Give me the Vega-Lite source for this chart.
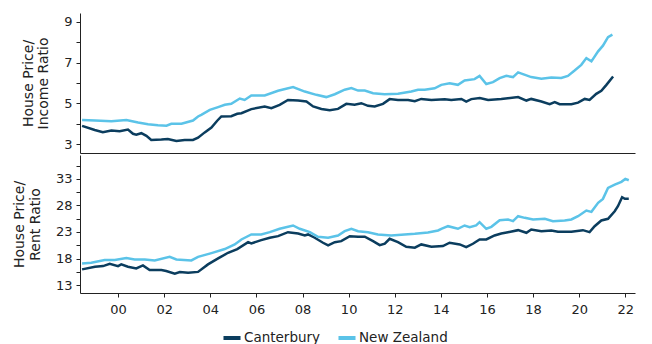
{
  "$schema": "https://vega.github.io/schema/vega-lite/v6.json",
  "padding": {"left": 12, "top": 13, "right": 5, "bottom": 0},
  "spacing": 2,
  "config": {
    "font": "DejaVu Sans",
    "view": {"stroke": null},
    "axis": {"grid": false, "domainColor": "#222", "tickColor": "#222", "labelColor": "#222", "titleColor": "#222", "labelFontSize": 13, "titleFontSize": 14, "titleLineHeight": 15.5, "titleFontWeight": "normal", "tickSize": 4, "labelPadding": 4},
    "legend": {"labelFontSize": 13.5, "labelColor": "#222"}
  },
  "datasets": {
    "inc": [
      {"s":"Canterbury","x":1998.44,"y":3.90},{"s":"Canterbury","x":1998.99,"y":3.70},{"s":"Canterbury","x":1999.34,"y":3.59},{"s":"Canterbury","x":1999.71,"y":3.67},{"s":"Canterbury","x":2000.07,"y":3.64},{"s":"Canterbury","x":2000.43,"y":3.72},{"s":"Canterbury","x":2000.65,"y":3.51},{"s":"Canterbury","x":2000.79,"y":3.47},{"s":"Canterbury","x":2001.01,"y":3.54},{"s":"Canterbury","x":2001.23,"y":3.41},{"s":"Canterbury","x":2001.44,"y":3.21},{"s":"Canterbury","x":2001.88,"y":3.23},{"s":"Canterbury","x":2002.16,"y":3.26},{"s":"Canterbury","x":2002.53,"y":3.16},{"s":"Canterbury","x":2002.89,"y":3.21},{"s":"Canterbury","x":2003.25,"y":3.21},{"s":"Canterbury","x":2003.47,"y":3.32},{"s":"Canterbury","x":2003.76,"y":3.58},{"s":"Canterbury","x":2004.05,"y":3.82},{"s":"Canterbury","x":2004.30,"y":4.15},{"s":"Canterbury","x":2004.48,"y":4.36},{"s":"Canterbury","x":2004.91,"y":4.37},{"s":"Canterbury","x":2005.17,"y":4.49},{"s":"Canterbury","x":2005.35,"y":4.52},{"s":"Canterbury","x":2005.78,"y":4.72},{"s":"Canterbury","x":2006.36,"y":4.85},{"s":"Canterbury","x":2006.65,"y":4.77},{"s":"Canterbury","x":2007.01,"y":4.93},{"s":"Canterbury","x":2007.37,"y":5.17},{"s":"Canterbury","x":2007.81,"y":5.14},{"s":"Canterbury","x":2008.17,"y":5.09},{"s":"Canterbury","x":2008.46,"y":4.85},{"s":"Canterbury","x":2008.82,"y":4.73},{"s":"Canterbury","x":2009.18,"y":4.67},{"s":"Canterbury","x":2009.54,"y":4.73},{"s":"Canterbury","x":2009.90,"y":4.98},{"s":"Canterbury","x":2010.26,"y":4.93},{"s":"Canterbury","x":2010.55,"y":5.01},{"s":"Canterbury","x":2010.84,"y":4.88},{"s":"Canterbury","x":2011.13,"y":4.85},{"s":"Canterbury","x":2011.49,"y":4.98},{"s":"Canterbury","x":2011.78,"y":5.21},{"s":"Canterbury","x":2012.14,"y":5.17},{"s":"Canterbury","x":2012.58,"y":5.17},{"s":"Canterbury","x":2012.87,"y":5.11},{"s":"Canterbury","x":2013.15,"y":5.22},{"s":"Canterbury","x":2013.59,"y":5.17},{"s":"Canterbury","x":2014.17,"y":5.20},{"s":"Canterbury","x":2014.45,"y":5.17},{"s":"Canterbury","x":2014.89,"y":5.22},{"s":"Canterbury","x":2015.10,"y":5.09},{"s":"Canterbury","x":2015.32,"y":5.21},{"s":"Canterbury","x":2015.69,"y":5.26},{"s":"Canterbury","x":2016.05,"y":5.17},{"s":"Canterbury","x":2016.62,"y":5.22},{"s":"Canterbury","x":2017.35,"y":5.31},{"s":"Canterbury","x":2017.71,"y":5.14},{"s":"Canterbury","x":2017.92,"y":5.22},{"s":"Canterbury","x":2018.36,"y":5.09},{"s":"Canterbury","x":2018.72,"y":4.96},{"s":"Canterbury","x":2018.94,"y":5.06},{"s":"Canterbury","x":2019.15,"y":4.96},{"s":"Canterbury","x":2019.66,"y":4.96},{"s":"Canterbury","x":2019.95,"y":5.04},{"s":"Canterbury","x":2020.24,"y":5.22},{"s":"Canterbury","x":2020.45,"y":5.17},{"s":"Canterbury","x":2020.74,"y":5.47},{"s":"Canterbury","x":2020.96,"y":5.62},{"s":"Canterbury","x":2021.18,"y":5.91},{"s":"Canterbury","x":2021.47,"y":6.32},
      {"s":"New Zealand","x":1998.44,"y":4.19},{"s":"New Zealand","x":1999.00,"y":4.16},{"s":"New Zealand","x":1999.71,"y":4.13},{"s":"New Zealand","x":2000.36,"y":4.19},{"s":"New Zealand","x":2000.87,"y":4.06},{"s":"New Zealand","x":2001.30,"y":3.98},{"s":"New Zealand","x":2001.73,"y":3.93},{"s":"New Zealand","x":2002.10,"y":3.91},{"s":"New Zealand","x":2002.31,"y":4.00},{"s":"New Zealand","x":2002.75,"y":4.00},{"s":"New Zealand","x":2003.25,"y":4.16},{"s":"New Zealand","x":2003.47,"y":4.36},{"s":"New Zealand","x":2003.61,"y":4.44},{"s":"New Zealand","x":2003.98,"y":4.68},{"s":"New Zealand","x":2004.34,"y":4.82},{"s":"New Zealand","x":2004.63,"y":4.93},{"s":"New Zealand","x":2004.91,"y":4.98},{"s":"New Zealand","x":2005.28,"y":5.24},{"s":"New Zealand","x":2005.49,"y":5.17},{"s":"New Zealand","x":2005.78,"y":5.39},{"s":"New Zealand","x":2006.36,"y":5.39},{"s":"New Zealand","x":2006.94,"y":5.62},{"s":"New Zealand","x":2007.59,"y":5.80},{"s":"New Zealand","x":2008.10,"y":5.58},{"s":"New Zealand","x":2008.60,"y":5.42},{"s":"New Zealand","x":2009.03,"y":5.31},{"s":"New Zealand","x":2009.40,"y":5.45},{"s":"New Zealand","x":2009.83,"y":5.67},{"s":"New Zealand","x":2010.12,"y":5.75},{"s":"New Zealand","x":2010.41,"y":5.63},{"s":"New Zealand","x":2010.70,"y":5.63},{"s":"New Zealand","x":2011.06,"y":5.50},{"s":"New Zealand","x":2011.56,"y":5.45},{"s":"New Zealand","x":2012.14,"y":5.47},{"s":"New Zealand","x":2012.72,"y":5.58},{"s":"New Zealand","x":2013.01,"y":5.67},{"s":"New Zealand","x":2013.30,"y":5.67},{"s":"New Zealand","x":2013.73,"y":5.74},{"s":"New Zealand","x":2014.02,"y":5.91},{"s":"New Zealand","x":2014.38,"y":5.99},{"s":"New Zealand","x":2014.74,"y":5.91},{"s":"New Zealand","x":2015.03,"y":6.12},{"s":"New Zealand","x":2015.46,"y":6.19},{"s":"New Zealand","x":2015.68,"y":6.35},{"s":"New Zealand","x":2015.97,"y":5.95},{"s":"New Zealand","x":2016.26,"y":6.04},{"s":"New Zealand","x":2016.55,"y":6.24},{"s":"New Zealand","x":2016.84,"y":6.35},{"s":"New Zealand","x":2017.13,"y":6.29},{"s":"New Zealand","x":2017.35,"y":6.52},{"s":"New Zealand","x":2017.92,"y":6.29},{"s":"New Zealand","x":2018.36,"y":6.21},{"s":"New Zealand","x":2018.79,"y":6.27},{"s":"New Zealand","x":2019.22,"y":6.25},{"s":"New Zealand","x":2019.51,"y":6.35},{"s":"New Zealand","x":2019.80,"y":6.61},{"s":"New Zealand","x":2020.09,"y":6.89},{"s":"New Zealand","x":2020.31,"y":7.22},{"s":"New Zealand","x":2020.53,"y":7.06},{"s":"New Zealand","x":2020.82,"y":7.55},{"s":"New Zealand","x":2021.03,"y":7.83},{"s":"New Zealand","x":2021.25,"y":8.25},{"s":"New Zealand","x":2021.44,"y":8.37}
    ],
    "rent": [
      {"s":"Canterbury","x":1998.44,"y":15.95},{"s":"Canterbury","x":1999.00,"y":16.46},{"s":"Canterbury","x":1999.35,"y":16.57},{"s":"Canterbury","x":1999.64,"y":17.02},{"s":"Canterbury","x":2000.00,"y":16.57},{"s":"Canterbury","x":2000.14,"y":16.89},{"s":"Canterbury","x":2000.43,"y":16.46},{"s":"Canterbury","x":2000.79,"y":16.14},{"s":"Canterbury","x":2001.08,"y":16.70},{"s":"Canterbury","x":2001.37,"y":15.82},{"s":"Canterbury","x":2001.88,"y":15.82},{"s":"Canterbury","x":2002.09,"y":15.63},{"s":"Canterbury","x":2002.46,"y":15.14},{"s":"Canterbury","x":2002.68,"y":15.44},{"s":"Canterbury","x":2003.04,"y":15.33},{"s":"Canterbury","x":2003.47,"y":15.48},{"s":"Canterbury","x":2003.90,"y":16.89},{"s":"Canterbury","x":2004.34,"y":18.02},{"s":"Canterbury","x":2004.77,"y":19.08},{"s":"Canterbury","x":2005.17,"y":19.78},{"s":"Canterbury","x":2005.64,"y":21.08},{"s":"Canterbury","x":2005.78,"y":20.84},{"s":"Canterbury","x":2006.21,"y":21.46},{"s":"Canterbury","x":2006.58,"y":21.91},{"s":"Canterbury","x":2006.94,"y":22.21},{"s":"Canterbury","x":2007.37,"y":22.96},{"s":"Canterbury","x":2007.81,"y":22.72},{"s":"Canterbury","x":2008.10,"y":22.34},{"s":"Canterbury","x":2008.24,"y":22.53},{"s":"Canterbury","x":2008.53,"y":21.91},{"s":"Canterbury","x":2008.89,"y":20.97},{"s":"Canterbury","x":2009.11,"y":20.46},{"s":"Canterbury","x":2009.40,"y":21.08},{"s":"Canterbury","x":2009.68,"y":21.27},{"s":"Canterbury","x":2010.05,"y":22.21},{"s":"Canterbury","x":2010.41,"y":22.10},{"s":"Canterbury","x":2010.70,"y":22.10},{"s":"Canterbury","x":2011.06,"y":21.27},{"s":"Canterbury","x":2011.35,"y":20.52},{"s":"Canterbury","x":2011.57,"y":20.78},{"s":"Canterbury","x":2011.78,"y":21.72},{"s":"Canterbury","x":2012.14,"y":21.08},{"s":"Canterbury","x":2012.50,"y":20.21},{"s":"Canterbury","x":2012.87,"y":20.03},{"s":"Canterbury","x":2013.15,"y":20.65},{"s":"Canterbury","x":2013.59,"y":20.21},{"s":"Canterbury","x":2014.09,"y":20.34},{"s":"Canterbury","x":2014.38,"y":20.97},{"s":"Canterbury","x":2014.82,"y":20.65},{"s":"Canterbury","x":2015.10,"y":20.15},{"s":"Canterbury","x":2015.39,"y":20.78},{"s":"Canterbury","x":2015.68,"y":21.59},{"s":"Canterbury","x":2015.97,"y":21.59},{"s":"Canterbury","x":2016.33,"y":22.34},{"s":"Canterbury","x":2016.62,"y":22.72},{"s":"Canterbury","x":2016.91,"y":22.96},{"s":"Canterbury","x":2017.35,"y":23.34},{"s":"Canterbury","x":2017.71,"y":22.85},{"s":"Canterbury","x":2017.92,"y":23.47},{"s":"Canterbury","x":2018.36,"y":23.15},{"s":"Canterbury","x":2018.79,"y":23.28},{"s":"Canterbury","x":2019.08,"y":23.03},{"s":"Canterbury","x":2019.66,"y":23.03},{"s":"Canterbury","x":2020.16,"y":23.34},{"s":"Canterbury","x":2020.45,"y":22.96},{"s":"Canterbury","x":2020.67,"y":24.09},{"s":"Canterbury","x":2020.96,"y":25.16},{"s":"Canterbury","x":2021.25,"y":25.48},{"s":"Canterbury","x":2021.54,"y":26.91},{"s":"Canterbury","x":2021.68,"y":27.85},{"s":"Canterbury","x":2021.86,"y":29.54},{"s":"Canterbury","x":2021.98,"y":29.24},{"s":"Canterbury","x":2022.15,"y":29.24},
      {"s":"New Zealand","x":1998.44,"y":17.08},{"s":"New Zealand","x":1998.84,"y":17.21},{"s":"New Zealand","x":1999.42,"y":17.70},{"s":"New Zealand","x":1999.86,"y":17.70},{"s":"New Zealand","x":2000.36,"y":18.08},{"s":"New Zealand","x":2000.72,"y":17.83},{"s":"New Zealand","x":2001.16,"y":17.83},{"s":"New Zealand","x":2001.59,"y":17.64},{"s":"New Zealand","x":2002.24,"y":18.33},{"s":"New Zealand","x":2002.53,"y":17.83},{"s":"New Zealand","x":2003.18,"y":17.64},{"s":"New Zealand","x":2003.47,"y":18.30},{"s":"New Zealand","x":2004.05,"y":19.02},{"s":"New Zealand","x":2004.63,"y":19.78},{"s":"New Zealand","x":2005.06,"y":20.65},{"s":"New Zealand","x":2005.35,"y":21.59},{"s":"New Zealand","x":2005.78,"y":22.53},{"s":"New Zealand","x":2006.21,"y":22.53},{"s":"New Zealand","x":2006.58,"y":22.96},{"s":"New Zealand","x":2007.01,"y":23.60},{"s":"New Zealand","x":2007.59,"y":24.22},{"s":"New Zealand","x":2007.88,"y":23.60},{"s":"New Zealand","x":2008.32,"y":22.96},{"s":"New Zealand","x":2008.67,"y":22.10},{"s":"New Zealand","x":2009.11,"y":21.91},{"s":"New Zealand","x":2009.54,"y":22.34},{"s":"New Zealand","x":2009.83,"y":23.15},{"s":"New Zealand","x":2010.12,"y":23.60},{"s":"New Zealand","x":2010.41,"y":23.15},{"s":"New Zealand","x":2010.84,"y":22.96},{"s":"New Zealand","x":2011.27,"y":22.53},{"s":"New Zealand","x":2011.85,"y":22.34},{"s":"New Zealand","x":2012.43,"y":22.53},{"s":"New Zealand","x":2012.87,"y":22.66},{"s":"New Zealand","x":2013.44,"y":22.90},{"s":"New Zealand","x":2013.88,"y":23.28},{"s":"New Zealand","x":2014.02,"y":23.60},{"s":"New Zealand","x":2014.31,"y":24.09},{"s":"New Zealand","x":2014.74,"y":23.60},{"s":"New Zealand","x":2015.03,"y":24.22},{"s":"New Zealand","x":2015.25,"y":23.90},{"s":"New Zealand","x":2015.53,"y":24.22},{"s":"New Zealand","x":2015.68,"y":24.84},{"s":"New Zealand","x":2015.97,"y":23.60},{"s":"New Zealand","x":2016.19,"y":23.97},{"s":"New Zealand","x":2016.55,"y":25.22},{"s":"New Zealand","x":2016.91,"y":25.35},{"s":"New Zealand","x":2017.13,"y":25.03},{"s":"New Zealand","x":2017.35,"y":25.97},{"s":"New Zealand","x":2017.64,"y":25.66},{"s":"New Zealand","x":2018.00,"y":25.35},{"s":"New Zealand","x":2018.51,"y":25.48},{"s":"New Zealand","x":2018.86,"y":25.03},{"s":"New Zealand","x":2019.37,"y":25.16},{"s":"New Zealand","x":2019.66,"y":25.35},{"s":"New Zealand","x":2019.95,"y":25.97},{"s":"New Zealand","x":2020.31,"y":27.04},{"s":"New Zealand","x":2020.53,"y":26.79},{"s":"New Zealand","x":2020.82,"y":28.49},{"s":"New Zealand","x":2021.03,"y":29.24},{"s":"New Zealand","x":2021.25,"y":31.30},{"s":"New Zealand","x":2021.54,"y":31.93},{"s":"New Zealand","x":2021.83,"y":32.44},{"s":"New Zealand","x":2022.00,"y":33.00},{"s":"New Zealand","x":2022.15,"y":32.74}
    ]
  },
  "vconcat": [
    {
      "width": 555, "height": 140,
      "data": {"name": "inc"},
      "mark": {"type": "line", "strokeWidth": 2.5},
      "encoding": {
        "x": {"field": "x", "type": "quantitative", "scale": {"domain": [1998.35, 2022.42], "nice": false, "zero": false}, "axis": {"labels": false, "ticks": false, "title": null}},
        "y": {"field": "y", "type": "quantitative", "scale": {"domain": [2.57, 9.43], "nice": false, "zero": false}, "axis": {"values": [3,4,5,6,7,8,9], "labelExpr": "datum.value % 2 == 1 ? datum.label : ''", "title": ["House Price/", "Income Ratio"], "titlePadding": 13}},
        "color": {"field": "s", "type": "nominal", "scale": {"domain": ["Canterbury", "New Zealand"], "range": ["#0b3d5e", "#5bc3e8"]}, "legend": {"orient": "none", "legendX": 141, "legendY": 314, "direction": "horizontal", "title": null, "symbolType": "stroke", "symbolStrokeWidth": 4, "symbolSize": 290, "labelOffset": 1, "columnPadding": 9}}
      }
    },
    {
      "width": 555, "height": 138,
      "data": {"name": "rent"},
      "mark": {"type": "line", "strokeWidth": 2.5},
      "encoding": {
        "x": {"field": "x", "type": "quantitative", "scale": {"domain": [1998.35, 2022.42], "nice": false, "zero": false}, "axis": {"values": [2000,2002,2004,2006,2008,2010,2012,2014,2016,2018,2020,2022], "labelExpr": "substring(toString(datum.value), 2, 4)", "title": null, "labelPadding": 6}},
        "y": {"field": "y", "type": "quantitative", "scale": {"domain": [11.5, 37.5], "nice": false, "zero": false}, "axis": {"values": [13,15.5,18,20.5,23,25.5,28,30.5,33,35.5], "labelExpr": "(datum.value - 13) % 5 == 0 ? datum.label : ''", "title": ["House Price/", "Rent Ratio"], "titlePadding": 13}},
        "color": {"field": "s", "type": "nominal", "scale": {"domain": ["Canterbury", "New Zealand"], "range": ["#0b3d5e", "#5bc3e8"]}, "legend": {"orient": "none", "legendX": 141, "legendY": 314, "direction": "horizontal", "title": null, "symbolType": "stroke", "symbolStrokeWidth": 4, "symbolSize": 290, "labelOffset": 1, "columnPadding": 9}}
      }
    }
  ]
}
